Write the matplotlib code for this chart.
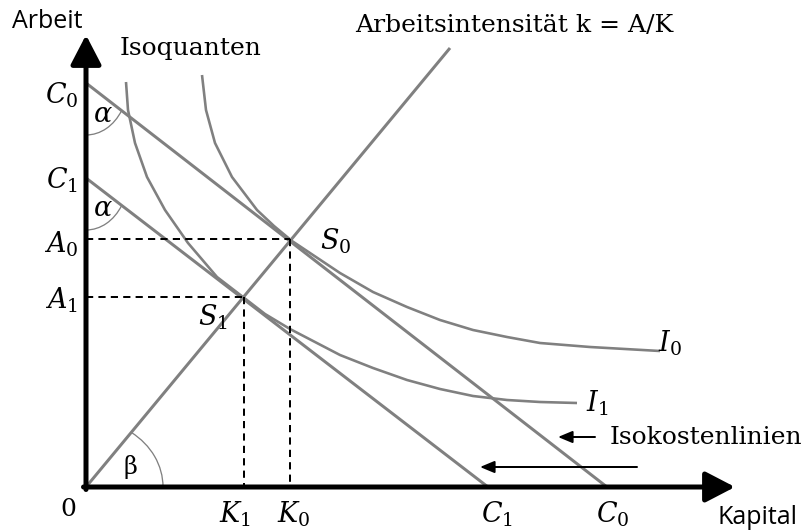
import numpy as np
import matplotlib.pyplot as plt
from matplotlib.patches import Arc

plt.rcParams['mathtext.fontset'] = 'dejavuserif'

# Isokostenlinien: Achsenabschnitte (Arbeit, Kapital)
C0_A, C0_K = 404, 521
C1_A, C1_K = 309, 402
# Arbeitsintensitaet k = A/K (Strahl aus dem Ursprung)
ray_K = [0, 364]
ray_A = [0, 439]
# Tangentialpunkte S0, S1
K0, A0 = 204, 248
K1, A1 = 158, 190
I0_K = [116, 120, 129, 146, 171, 188, 206, 254, 287, 321, 354, 387, 421, 454, 504, 574]
I0_A = [412, 377, 344, 310, 277, 261, 246, 214, 195, 180, 167, 157, 150, 144, 140, 136]
I1_K = [40, 42, 49, 61, 79, 102, 131, 157, 179, 204, 254, 287, 321, 354, 387, 421, 454, 491]
I1_A = [405, 377, 344, 310, 277, 244, 210, 190, 173, 158, 132, 119, 107, 98, 91, 87, 85, 84]

grey = '#808080'
fig = plt.figure(figsize=(802 / 72, 530 / 72), dpi=72)
ax = fig.add_axes([0, 0, 1, 1])
ax.set_xlim(-86, 716)
ax.set_ylim(-43, 487)
ax.axis('off')

# Isokosten, Strahl, Isoquanten
ax.plot([0, C0_K], [C0_A, 0], color=grey, lw=3, solid_capstyle='butt')
ax.plot([0, C1_K], [C1_A, 0], color=grey, lw=3, solid_capstyle='butt')
ax.plot(ray_K, ray_A, color=grey, lw=3, solid_capstyle='butt')
ax.plot(I0_K, I0_A, color=grey, lw=2.6, solid_joinstyle='round', solid_capstyle='butt')
ax.plot(I1_K, I1_A, color=grey, lw=2.6, solid_joinstyle='round', solid_capstyle='butt')

# gestrichelte Hilfslinien
for kk, aa in [(K0, A0), (K1, A1)]:
    ax.plot([0, kk], [aa, aa], color='k', lw=2, dashes=(3.6, 2.6))
    ax.plot([kk, kk], [aa, 0], color='k', lw=2, dashes=(3.6, 2.6))

# Winkel
ang0 = np.degrees(np.arctan2(-C0_A, C0_K))
ang1 = np.degrees(np.arctan2(-C1_A, C1_K))
ax.add_patch(Arc((0, C0_A), 84, 104, theta1=-90, theta2=ang0, color=grey, lw=1.3))
ax.add_patch(Arc((0, C1_A), 84, 104, theta1=-90, theta2=ang1, color=grey, lw=1.3))
angb = np.degrees(np.arctan2(ray_A[1], ray_K[1]))
ax.add_patch(Arc((0, 0), 154, 135, theta1=0, theta2=angb, color=grey, lw=1.3))

# Achsen mit Pfeilspitzen
axprops = dict(arrowstyle='-|>,head_length=1.25,head_width=0.65', mutation_scale=20,
               lw=5, color='k', shrinkA=0, shrinkB=0)
ax.annotate('', xy=(0, 452), xytext=(0, -2.5), arrowprops=axprops)
ax.annotate('', xy=(649, 0), xytext=(-2.5, 0), arrowprops=axprops)

# Pfeile an "Isokostenlinien"
tprops = dict(arrowstyle='-|>,head_length=0.6,head_width=0.25', mutation_scale=20,
              lw=2, color='k', shrinkA=0, shrinkB=0)
ax.annotate('', xy=(472, 50), xytext=(509, 50), arrowprops=tprops)
ax.annotate('', xy=(394, 20), xytext=(551, 20), arrowprops=tprops)

serif = 'DejaVu Serif'
fs = 25
ms = 27
ax.text(-4, 465, 'Arbeit', family='Open Sans', fontsize=25, ha='right', va='center')
ax.text(632, -31, 'Kapital', family='Open Sans', fontsize=25, ha='left', va='center')
ax.text(34, 439, 'Isoquanten', family=serif, fontsize=fs, ha='left', va='center')
ax.text(269, 462, 'Arbeitsintensität k = A/K', family=serif, fontsize=fs, ha='left', va='center')
ax.text(524, 50, 'Isokostenlinien', family=serif, fontsize=fs, ha='left', va='center')
ax.text(-18, -22, '0', family=serif, fontsize=fs, ha='center', va='center')

ax.text(-8, 392, r'$C_0$', fontsize=ms, ha='right', va='center')
ax.text(-8, 307, r'$C_1$', fontsize=ms, ha='right', va='center')
ax.text(-8, 243, r'$A_0$', fontsize=ms, ha='right', va='center')
ax.text(-8, 187, r'$A_1$', fontsize=ms, ha='right', va='center')
ax.text(K1 - 9, -27, r'$K_1$', fontsize=ms, ha='center', va='center')
ax.text(K0 + 4, -27, r'$K_0$', fontsize=ms, ha='center', va='center')
ax.text(C1_K + 9, -27, r'$C_1$', fontsize=ms, ha='center', va='center')
ax.text(C0_K + 6, -27, r'$C_0$', fontsize=ms, ha='center', va='center')
ax.text(K0 + 30, 246, r'$S_0$', fontsize=ms, ha='left', va='center')
ax.text(K1 - 46, 170, r'$S_1$', fontsize=ms, ha='left', va='center')
ax.text(572, 144, r'$I_0$', fontsize=ms, ha='left', va='center')
ax.text(500, 84, r'$I_1$', fontsize=ms, ha='left', va='center')
ax.text(17, 372, r'$\alpha$', fontsize=ms, ha='center', va='center')
ax.text(17, 278, r'$\alpha$', fontsize=ms, ha='center', va='center')
ax.text(44, 20, 'β', family=serif, fontsize=24, ha='center', va='center')

fig.savefig('out.png', dpi=72)
